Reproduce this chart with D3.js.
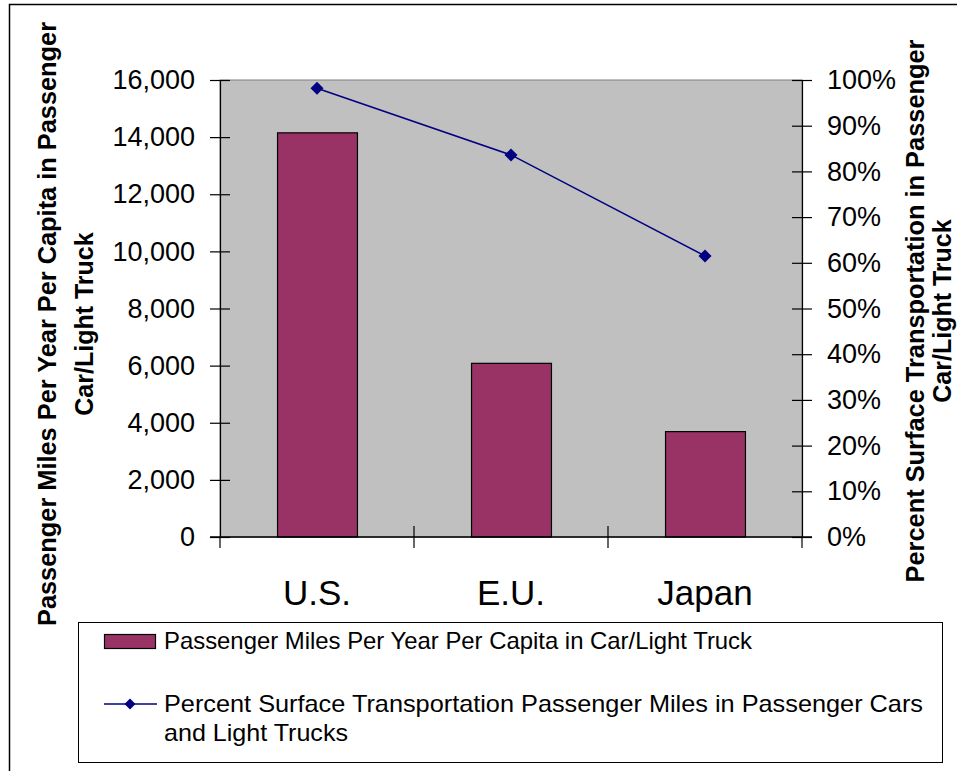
<!DOCTYPE html>
<html>
<head>
<meta charset="utf-8">
<script src="https://cdn.jsdelivr.net/npm/d3@7/dist/d3.min.js"></script>
<style>
  html, body { margin: 0; padding: 0; background: #fff; }
  svg { display: block; }
  text { font-family: "Liberation Sans", Arial, sans-serif; fill: #000; }
</style>
</head>
<body>
<svg id="chart" width="957" height="771"></svg>
<script>
const categories = ["U.S.", "E.U.", "Japan"];
const milesPerCapita = [14150, 6080, 3690];
const percentCarTruck = [98.2, 83.6, 61.5];
const leftTicks = [0, 2000, 4000, 6000, 8000, 10000, 12000, 14000, 16000];
const rightTicks = [0, 10, 20, 30, 40, 50, 60, 70, 80, 90, 100];
const barSeriesName = "Passenger Miles Per Year Per Capita in Car/Light Truck";
const lineSeriesName = ["Percent Surface Transportation Passenger Miles in Passenger Cars", "and Light Trucks"];
const leftTitle = ["Passenger Miles Per Year Per Capita in Passenger", "Car/Light Truck"];
const rightTitle = ["Percent Surface Transportation in Passenger", "Car/Light Truck"];

const svg = d3.select("#chart");
const plot = { left: 220, right: 802, top: 80, bottom: 537 };

// outer frame
svg.append("rect").attr("x", 9.5).attr("y", 4.5).attr("width", 980).attr("height", 800)
  .attr("fill", "#fff").attr("stroke", "#000").attr("stroke-width", 1.5);

const x = d3.scaleBand().domain(categories).range([plot.left, plot.right])
  .paddingInner(0.588).paddingOuter(0.294);
const yL = d3.scaleLinear().domain([0, 16000]).range([plot.bottom, plot.top]);
const yR = d3.scaleLinear().domain([0, 100]).range([plot.bottom, plot.top]);

// plot area
svg.append("rect").attr("x", plot.left).attr("y", plot.top)
  .attr("width", plot.right - plot.left).attr("height", plot.bottom - plot.top)
  .attr("fill", "#C0C0C0").attr("stroke", "#808080").attr("stroke-width", 1);

// bars
svg.append("g").selectAll("rect").data(categories).join("rect")
  .attr("x", d => x(d) + 0.5)
  .attr("y", (d, i) => yL(milesPerCapita[i]))
  .attr("width", x.bandwidth())
  .attr("height", (d, i) => yL(0) - yL(milesPerCapita[i]))
  .attr("fill", "#993366").attr("stroke", "#000").attr("stroke-width", 1.2);

// left axis
const gL = svg.append("g").attr("transform", `translate(${plot.left},0)`)
  .call(d3.axisLeft(yL).tickValues(leftTicks).tickFormat(d3.format(",")).tickSize(0).tickPadding(25));
gL.select(".domain").attr("stroke", "#000").attr("stroke-width", 1.2);
gL.selectAll(".tick line").attr("x1", -10).attr("x2", 10).attr("stroke", "#000").attr("stroke-width", 1.2);
gL.selectAll(".tick text").attr("font-size", 27).attr("font-family", null);

// right axis
const gR = svg.append("g").attr("transform", `translate(${plot.right},0)`)
  .call(d3.axisRight(yR).tickValues(rightTicks).tickFormat(d => d + "%").tickSize(0).tickPadding(25));
gR.select(".domain").attr("stroke", "#000").attr("stroke-width", 1.2);
gR.selectAll(".tick line").attr("x1", -10).attr("x2", 10).attr("stroke", "#000").attr("stroke-width", 1.2);
gR.selectAll(".tick text").attr("font-size", 27).attr("font-family", null);

// bottom axis
const gB = svg.append("g").attr("transform", `translate(0,${plot.bottom})`);
gB.append("line").attr("x1", plot.left - 10).attr("x2", plot.right + 10)
  .attr("stroke", "#000").attr("stroke-width", 1.5);
const step = x.step();
const bounds = categories.map(c => x(c) + x.bandwidth() / 2 - step / 2)
  .concat([x(categories[categories.length - 1]) + x.bandwidth() / 2 + step / 2]);
gB.selectAll("line.cat").data(bounds).join("line").attr("class", "cat")
  .attr("x1", d => d).attr("x2", d => d)
  .attr("y1", (d, i) => (i === 0 || i === bounds.length - 1) ? 0 : -11).attr("y2", 11)
  .attr("stroke", "#000").attr("stroke-width", 1.2);
gB.selectAll("text").data(categories).join("text")
  .attr("x", d => x(d) + x.bandwidth() / 2)
  .attr("y", 68)
  .attr("text-anchor", "middle").attr("font-size", 35)
  .text(d => d);

// line series
const line = d3.line().x((d, i) => x(categories[i]) + x.bandwidth() / 2).y(d => yR(d));
svg.append("path").datum(percentCarTruck).attr("d", line)
  .attr("fill", "none").attr("stroke", "#000080").attr("stroke-width", 1.5);
const diamond = d3.symbol(d3.symbolSquare, 85);
svg.append("g").selectAll("path").data(percentCarTruck).join("path")
  .attr("d", diamond)
  .attr("transform", (d, i) => `translate(${x(categories[i]) + x.bandwidth() / 2},${yR(d)}) rotate(45)`)
  .attr("fill", "#000080");

// axis titles
const lt = svg.append("text").attr("transform", "translate(50,324) rotate(-90)")
  .attr("text-anchor", "middle").attr("font-size", 25).attr("font-weight", "bold");
lt.append("tspan").attr("x", 0).attr("y", 6).attr("textLength", 604)
  .attr("lengthAdjust", "spacingAndGlyphs").text(leftTitle[0]);
lt.append("tspan").attr("x", 0).attr("y", 43).text(leftTitle[1]);

const rt = svg.append("text").attr("transform", "translate(915,311) rotate(-90)")
  .attr("text-anchor", "middle").attr("font-size", 25).attr("font-weight", "bold");
rt.append("tspan").attr("x", 0).attr("y", 9).attr("textLength", 543)
  .attr("lengthAdjust", "spacingAndGlyphs").text(rightTitle[0]);
rt.append("tspan").attr("x", 0).attr("y", 36).text(rightTitle[1]);

// legend
const lg = svg.append("g");
lg.append("rect").attr("x", 78.5).attr("y", 622.5).attr("width", 864).attr("height", 140)
  .attr("fill", "#fff").attr("stroke", "#000").attr("stroke-width", 1);
lg.append("rect").attr("x", 104.5).attr("y", 634.5).attr("width", 51).attr("height", 14)
  .attr("fill", "#993366").attr("stroke", "#000").attr("stroke-width", 1.2);
lg.append("text").attr("x", 164).attr("y", 649).attr("font-size", 24)
  .attr("textLength", 588).attr("lengthAdjust", "spacingAndGlyphs").text(barSeriesName);
lg.append("line").attr("x1", 104).attr("x2", 157).attr("y1", 704).attr("y2", 704)
  .attr("stroke", "#000080").attr("stroke-width", 1.5);
lg.append("path").attr("d", d3.symbol(d3.symbolSquare, 60))
  .attr("transform", "translate(130,704) rotate(45)").attr("fill", "#000080");
lg.append("text").attr("x", 164).attr("y", 712).attr("font-size", 24)
  .attr("textLength", 759).attr("lengthAdjust", "spacingAndGlyphs").text(lineSeriesName[0]);
lg.append("text").attr("x", 164).attr("y", 741).attr("font-size", 24)
  .attr("textLength", 184).attr("lengthAdjust", "spacingAndGlyphs").text(lineSeriesName[1]);
</script>
</body>
</html>
